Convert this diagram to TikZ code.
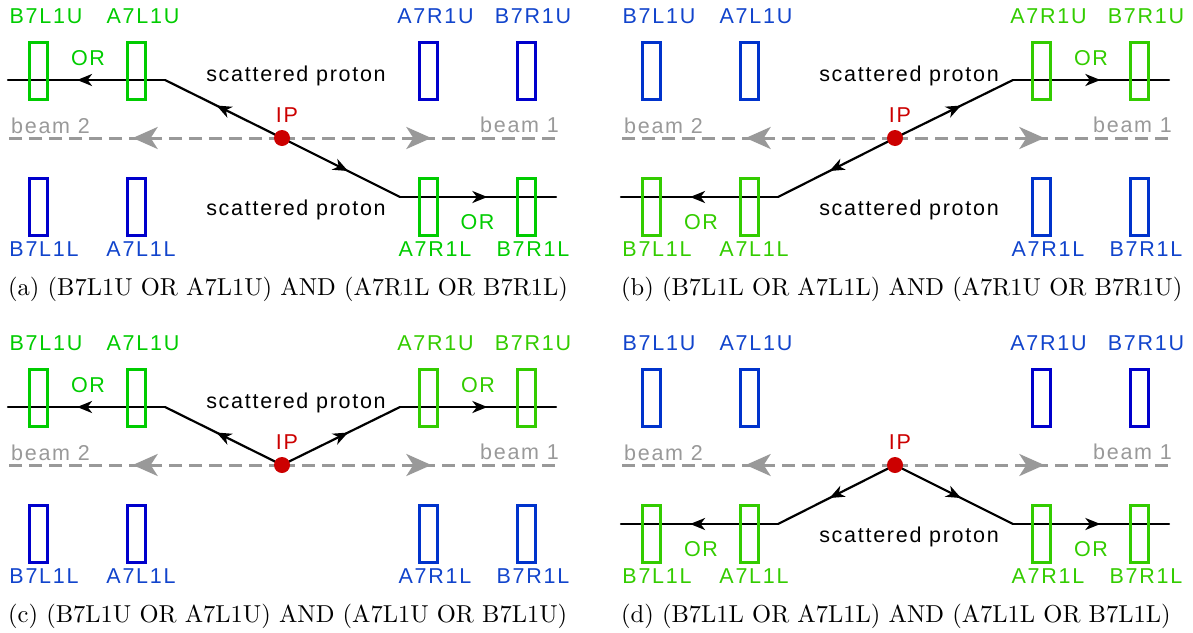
\documentclass[tikz,border=0pt]{standalone}
\usepackage{fontspec}
\newfontfamily\labfont[LetterSpace=8]{Liberation Sans}
\newfontfamily\capfont{lmroman10-regular.otf}
\usetikzlibrary{arrows.meta,decorations.markings}
\definecolor{gA}{HTML}{00CC00}
\definecolor{gB}{HTML}{33CC00}
\definecolor{bA}{HTML}{0000CC}
\definecolor{bB}{HTML}{0033CC}
\definecolor{blab}{HTML}{1144CC}
\colorlet{gAlab}{gA}
\colorlet{gBlab}{gB}
\colorlet{bAlab}{blab}
\colorlet{bBlab}{blab}
\definecolor{beamgray}{HTML}{999999}
\definecolor{ipred}{HTML}{CC0000}
\tikzset{
  lab/.style={font={\labfont\fontsize{21.5}{26}\selectfont}, inner sep=0pt, anchor=base},
  det/.style={draw=#1, line width=3pt, minimum width=18pt, minimum height=57pt, inner sep=0pt},
  proton/.style={line width=2.2pt, line cap=round, postaction={decorate},
    decoration={markings, mark=at position 0.56 with {\arrow{Stealth[length=15pt,width=12pt,inset=4.5pt]}}}},
  beamline/.style={draw=beamgray, line width=3pt, dash pattern=on 13pt off 7pt, postaction={decorate},
    decoration={markings, mark=at position 0.545 with {\arrow[beamgray]{Stealth[length=25pt,width=22pt,inset=7pt]}}}},
  ipdot/.style={circle, fill=ipred, minimum size=16pt, inner sep=0pt},
  captext/.style={font={\capfont\fontsize{24.5}{29}\selectfont}, inner sep=0pt, anchor=base west},
}
\newcommand\PanelBase[1]{%
  \coordinate (#1IP) at (282,138);
  \coordinate (#1BL) at (8,138);
  \coordinate (#1BR) at (556,138);
  \coordinate (#1KTL) at (165,80);
  \coordinate (#1KTR) at (400,80);
  \coordinate (#1KBL) at (165,197);
  \coordinate (#1KBR) at (400,197);
  \coordinate (#1ETL) at (8,80);
  \coordinate (#1ETR) at (556,80);
  \coordinate (#1EBL) at (8,197);
  \coordinate (#1EBR) at (556,197);
  \draw[beamline] (#1IP) -- (#1BL);
  \draw[beamline] (#1IP) -- (#1BR);
  \node[lab, text=beamgray, anchor=base west] (#1b2) at (11,133) {beam 2};
  \node[lab, text=beamgray, anchor=base east] (#1b1) at (559,132) {beam 1};
}
\newcommand\Dets[5]{%
  \node[det=#2] (#1d1) at (38.5,70.5) {};
  \node[det=#2] (#1d2) at (136,70.5) {};
  \node[det=#3] (#1d3) at (428.5,70.5) {};
  \node[det=#3] (#1d4) at (526,70.5) {};
  \node[det=#4] (#1d5) at (38.5,206.5) {};
  \node[det=#4] (#1d6) at (136,206.5) {};
  \node[det=#5] (#1d7) at (428.5,206.5) {};
  \node[det=#5] (#1d8) at (526,206.5) {};
  \node[lab, text=#2lab] (#1t1) at (46,23) {B7L1U};
  \node[lab, text=#2lab] (#1t2) at (143,23) {A7L1U};
  \node[lab, text=#3lab] (#1t3) at (435.5,23) {A7R1U};
  \node[lab, text=#3lab] (#1t4) at (533,23) {B7R1U};
  \node[lab, text=#4lab] (#1t5) at (44,256) {B7L1L};
  \node[lab, text=#4lab] (#1t6) at (141,256) {A7L1L};
  \node[lab, text=#5lab] (#1t7) at (435,256) {A7R1L};
  \node[lab, text=#5lab] (#1t8) at (533,256) {B7R1L};
  \node[ipdot] (#1dot) at (#1IP) {};
  \node[lab, text=ipred] (#1ip) at (287,122) {IP};
}
\begin{document}
\begin{tikzpicture}[x=1pt,y=-1pt]
\useasboundingbox (0,0) rectangle (1193,632);
% ---------- (a)
\begin{scope}[shift={(0,0)}]
  \PanelBase{a}
  \draw[proton] (aIP) -- (aKTL);
  \draw[proton] (aKTL) -- (aETL);
  \draw[proton] (aIP) -- (aKBR);
  \draw[proton] (aKBR) -- (aEBR);
  \node[lab] (asp1) at (296,81) {scattered proton};
  \node[lab] (asp2) at (296,215) {scattered proton};
  \node[lab, text=gA] (aor1) at (88,65) {OR};
  \node[lab, text=gA] (aor2) at (477.5,229) {OR};
  \Dets{a}{gA}{bA}{bA}{gA}
  \node[captext] (acap) at (8,295) {(a) (B7L1U OR A7L1U) AND (A7R1L OR B7R1L)};
\end{scope}
% ---------- (b)
\begin{scope}[shift={(613,0)}]
  \PanelBase{b}
  \draw[proton] (bIP) -- (bKTR);
  \draw[proton] (bKTR) -- (bETR);
  \draw[proton] (bIP) -- (bKBL);
  \draw[proton] (bKBL) -- (bEBL);
  \node[lab] (bsp1) at (296,81) {scattered proton};
  \node[lab] (bsp2) at (296,215) {scattered proton};
  \node[lab, text=gB] (bor1) at (478,65) {OR};
  \node[lab, text=gB] (bor2) at (88,229) {OR};
  \Dets{b}{bB}{gB}{gB}{bB}
  \node[captext] (bcap) at (8,295) {(b) (B7L1L OR A7L1L) AND (A7R1U OR B7R1U)};
\end{scope}
% ---------- (c)
\begin{scope}[shift={(0,327)}]
  \PanelBase{c}
  \draw[proton] (cIP) -- (cKTL);
  \draw[proton] (cKTL) -- (cETL);
  \draw[proton] (cIP) -- (cKTR);
  \draw[proton] (cKTR) -- (cETR);
  \node[lab] (csp1) at (296,81) {scattered proton};
  \node[lab, text=gA] (cor1) at (88,65) {OR};
  \node[lab, text=gB] (cor2) at (478,65) {OR};
  \Dets{c}{gA}{gB}{bA}{bB}
  \node[captext] (ccap) at (8,295) {(c) (B7L1U OR A7L1U) AND (A7L1U OR B7L1U)};
\end{scope}
% ---------- (d)
\begin{scope}[shift={(613,327)}]
  \PanelBase{d}
  \draw[proton] (dIP) -- (dKBL);
  \draw[proton] (dKBL) -- (dEBL);
  \draw[proton] (dIP) -- (dKBR);
  \draw[proton] (dKBR) -- (dEBR);
  \node[lab] (dsp2) at (296,215) {scattered proton};
  \node[lab, text=gB] (dor1) at (88,229) {OR};
  \node[lab, text=gB] (dor2) at (478,229) {OR};
  \Dets{d}{bB}{bA}{gB}{gB}
  \node[captext] (dcap) at (8,295) {(d) (B7L1L OR A7L1L) AND (A7L1L OR B7L1L)};
\end{scope}
\end{tikzpicture}
\end{document}
